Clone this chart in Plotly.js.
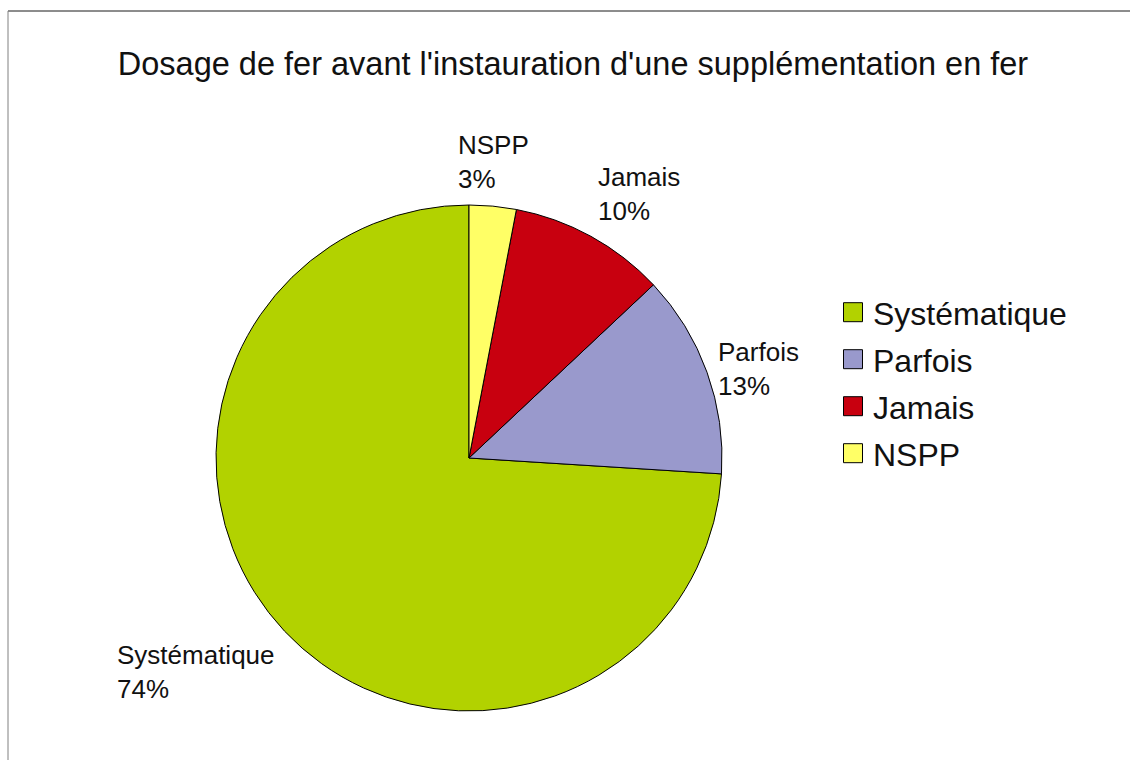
<!DOCTYPE html>
<html>
<head>
<meta charset="utf-8">
<script src="https://cdn.plot.ly/plotly-3.0.1.min.js"></script>
<style>
  html, body { margin: 0; padding: 0; background: #fff; }
  #chart { width: 1130px; height: 760px; }
</style>
</head>
<body>
<div id="chart"></div>
<script>
// Iron testing before starting iron supplementation
const categories = ['Systématique', 'Parfois', 'Jamais', 'NSPP'];
const values = [74, 13, 10, 3];
const colors = ['#b2d200', '#9999cc', '#c8000f', '#ffff66'];
const chartTitle = "Dosage de fer avant l'instauration d'une supplémentation en fer";

const W = 1130, H = 760;
const FONT = 'Liberation Sans, Arial, sans-serif';

// pie placement (paper fractions, margins are zero so paper == page)
const domX = [216 / W, 722 / W];
const domY = [49 / H, 555 / H];

// slice labels: placed just outside the rim at each slice's mid angle
const total = values.reduce((a, b) => a + b, 0);
const cxPx = (domX[0] + domX[1]) / 2 * W;
const cyPx = H - (domY[0] + domY[1]) / 2 * H;
const rPx = Math.min((domX[1] - domX[0]) * W, (domY[1] - domY[0]) * H) / 2;
const labelR = rPx + 10;

let cum = 0;
const annotations = categories.map((cat, i) => {
  const frac = values[i] / total;
  const midFrac = cum + frac / 2;
  cum += frac;
  // slices run counterclockwise from 12 o'clock
  const ang = -midFrac * 2 * Math.PI;
  const sx = Math.sin(ang), cy = Math.cos(ang);
  const px = cxPx + labelR * sx;
  const py = cyPx - labelR * cy;
  const lim = Math.sin(Math.PI / 8);
  const xanchor = Math.abs(sx) < lim ? 'center' : (sx > 0 ? 'left' : 'right');
  const yanchor = Math.abs(cy) < lim ? 'middle' : (cy > 0 ? 'bottom' : 'top');
  return {
    xref: 'paper', yref: 'paper',
    x: px / W, y: 1 - py / H,
    xanchor: xanchor, yanchor: yanchor,
    align: 'left',
    showarrow: false,
    text: cat + '<br>' + Math.round(frac * 100) + '%',
    font: { family: FONT, size: 26, color: '#111' }
  };
});

const trace = {
  type: 'pie',
  labels: categories,
  values: values,
  sort: false,
  direction: 'counterclockwise',
  // first slice begins at 12 o'clock and runs counterclockwise
  rotation: 360 * (total - values[0]) / total,
  textinfo: 'none',
  hoverinfo: 'none',
  marker: { colors: colors, line: { color: '#000', width: 1 } },
  domain: { x: domX, y: domY }
};

const layout = {
  width: W, height: H,
  margin: { l: 0, r: 0, t: 0, b: 0 },
  paper_bgcolor: '#fff',
  title: {
    text: chartTitle,
    x: 573 / W, xanchor: 'center',
    y: 1 - 64 / H, yanchor: 'middle',
    font: { family: FONT, size: 32.5, color: '#111' }
  },
  showlegend: true,
  legend: {
    x: 833 / W, xanchor: 'left',
    y: 1 - 383 / H, yanchor: 'middle',
    font: { family: FONT, size: 32, color: '#111' },
    bgcolor: 'rgba(0,0,0,0)'
  },
  annotations: annotations,
  shapes: [
    { type: 'line', xref: 'paper', yref: 'paper', x0: 8 / W, x1: 1, y0: 1 - 11 / H, y1: 1 - 11 / H,
      line: { color: '#1a1a1a', width: 1 } },
    { type: 'line', xref: 'paper', yref: 'paper', x0: 8 / W, x1: 8 / W, y0: 0, y1: 1 - 11 / H,
      line: { color: '#808080', width: 1 } }
  ]
};

Plotly.newPlot('chart', [trace], layout, { staticPlot: true }).then(gd => {
  // larger legend swatches
  gd.querySelectorAll('.legend .legendpoints path').forEach(p => {
    p.setAttribute('d', 'M9.5,9.5H-9.5V-9.5H9.5Z');
  });
  // wider row pitch in the legend, centred on the same middle row
  const rows = Array.from(gd.querySelectorAll('.legend .traces'));
  const pitch = 47;
  const ys = rows.map(g => {
    const m = /translate\(\s*([-\d.]+)[ ,]+([-\d.]+)\s*\)/.exec(g.getAttribute('transform') || '');
    return m ? [parseFloat(m[1]), parseFloat(m[2])] : [0, 0];
  });
  if (rows.length) {
    const mid = (ys[0][1] + ys[ys.length - 1][1]) / 2;
    const start = mid - pitch * (rows.length - 1) / 2;
    rows.forEach((g, i) => {
      g.setAttribute('transform', 'translate(' + ys[i][0] + ',' + (start + i * pitch) + ')');
    });
  }
});
</script>
</body>
</html>
